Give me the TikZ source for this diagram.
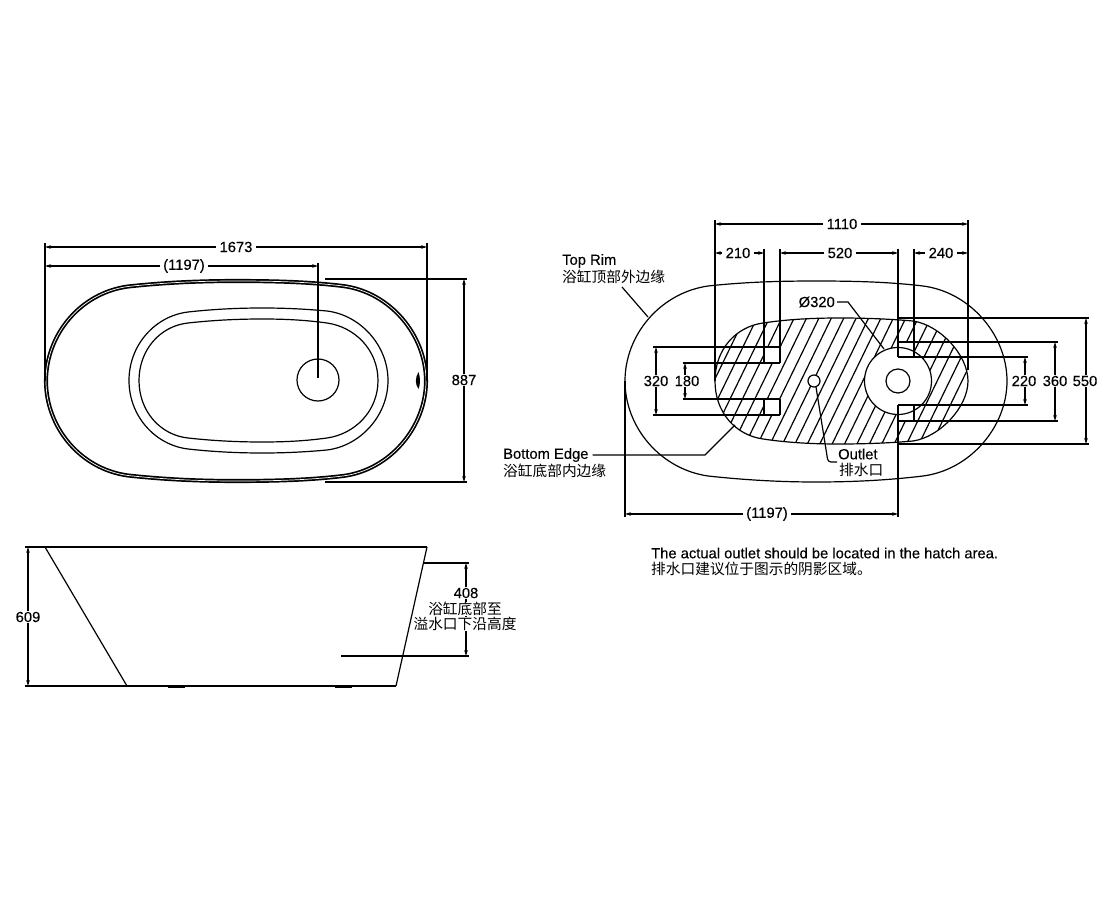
\documentclass[tikz,border=0pt]{standalone}
\usepackage{fontspec}
\setmainfont[FakeBold=0.2]{Liberation Sans}
\newfontfamily\cjk{Noto Sans CJK SC}
\usetikzlibrary{arrows.meta}
\newcommand{\outerpath}{(46,381) .. controls (46,335) and (80,293) .. (128,286.5) .. controls (165,282.5) and (200,281) .. (236,281) .. controls (275,281) and (310,282) .. (343,286) .. controls (390,292) and (426,335) .. (426,381) .. controls (426,427) and (390,470) .. (343,476) .. controls (310,480) and (275,481) .. (236,481) .. controls (200,481) and (165,479.5) .. (128,475.5) .. controls (80,469) and (46,427) .. (46,381) -- cycle}
\newcommand{\hatchpath}{(715,381) .. controls (715,350) and (735,327) .. (763,323) .. controls (790,319) and (815,318) .. (840,318) .. controls (865,318) and (890,319) .. (913,321) .. controls (940,325) and (968,355) .. (968,381) .. controls (968,407) and (940,437) .. (913,441) .. controls (890,443) and (865,444) .. (840,444) .. controls (815,444) and (790,443) .. (763,439) .. controls (735,435) and (715,412) .. (715,381) -- cycle}
\tikzset{
 x=1pt,y=-1pt,
 line/.style={draw=black,line width=1.2pt},
 dimline/.style={draw=black,line width=1.2pt,{Stealth[length=6pt,width=3.6pt]}-{Stealth[length=6pt,width=3.6pt]}},
 txt/.style={font=\fontsize{14.75}{16}\selectfont,inner sep=0pt,text=black},
 dimtxt/.style={txt,fill=white,inner xsep=3.5pt,inner ysep=1pt},
 cjktxt/.style={font=\fontsize{14.7}{16}\selectfont\cjk,inner sep=0pt,text=black},
}
\begin{document}
\begin{tikzpicture}
\useasboundingbox (0,0) rectangle (1120,920);
\fill[white] (0,0) rectangle (1120,920);

% --- left plan view
\draw[line width=1.7pt,double=white,double distance=0.7pt,draw=black] \outerpath;
\draw[line] (129,380.5) .. controls (129,345) and (155,316) .. (188,312) .. controls (215,309) and (240,308) .. (262,308) .. controls (285,308) and (305,309) .. (327,311) .. controls (360,315) and (388,345) .. (388,380.5) .. controls (388,416) and (360,446) .. (327,450) .. controls (305,452) and (285,453) .. (262,453) .. controls (240,453) and (215,452) .. (188,449) .. controls (155,445) and (129,416) .. (129,380.5) -- cycle;
\draw[line] (139,380.5) .. controls (139,350) and (160,326) .. (188,323) .. controls (215,320) and (240,319) .. (262,319) .. controls (285,319) and (305,320) .. (327,323) .. controls (355,327) and (378,350) .. (378,380.5) .. controls (378,411) and (355,434) .. (327,438) .. controls (305,441) and (285,442) .. (262,442) .. controls (240,442) and (215,441) .. (188,438) .. controls (160,435) and (139,411) .. (139,380.5) -- cycle;
\draw[line] (318,380) circle[radius=21];
\fill[black] (418.5,372) .. controls (420.5,378) and (420.5,384) .. (418.5,389) .. controls (415,384) and (415,378) .. (418.5,372) -- cycle;
% extension lines
\draw[line] (45,243) -- (45,381);
\draw[line] (427,243) -- (427,381);
\draw[line] (318,263) -- (318,378);
\draw[line] (325,279) -- (467,279);
\draw[line] (325,482) -- (467,482);
% dims
\draw[dimline] (45,247) -- (427,247);
\node[dimtxt] (d1673) at (236,247) {1673};
\draw[dimline] (45,266) -- (318,266);
\node[dimtxt] (d1197a) at (184,266) {(1197)};
\draw[dimline] (464,279) -- (464,482);
\node[dimtxt] (d887) at (464,380) {887};

% --- side view
\draw[line,line width=1.9pt] (45,547) -- (427,547);
\draw[line] (25,547) -- (45,547);
\draw[line] (45,547) -- (127,686);
\draw[line] (427,547) -- (396,686);
\draw[line] (25,686) -- (396,686);
\draw[line,line width=2pt] (168,686.5) -- (185,686.5);
\draw[line,line width=2pt] (335,686.5) -- (352,686.5);
\draw[line] (423,563) -- (469,563);
\draw[line] (341,656) -- (469,656);
\draw[dimline] (28,547) -- (28,686);
\node[dimtxt] (d609) at (28,617) {609};
\draw[dimline] (466,563) -- (466,656);
\node[txt,fill=white,inner xsep=1pt,inner ysep=1pt] (d408) at (466,593) {408};
\node[cjktxt,fill=white,inner ysep=0.5pt] (c1) at (465,609) {浴缸底部至};
\node[cjktxt,fill=white,inner ysep=0.5pt] (c2) at (465,624) {溢水口下沿高度};

% --- right plan view
\begin{scope}[xshift=580pt]
\draw[line] (45,381) .. controls (45,335) and (80,293) .. (128,286) .. controls (165,282) and (200,281) .. (236,281) .. controls (275,281) and (310,282) .. (343,286) .. controls (390,292) and (427,335) .. (427,381) .. controls (427,427) and (390,470) .. (343,476) .. controls (310,480) and (275,482) .. (236,482) .. controls (200,482) and (165,480) .. (128,476) .. controls (80,469) and (45,427) .. (45,381) -- cycle;
\end{scope}
\begin{scope}
\clip \hatchpath;
\foreach \n in {-8,...,16}
  \draw[line] ({819+12.4*\n+0.486*10},308) -- ({819+12.4*\n-0.486*130},448);
\end{scope}
\draw[line] \hatchpath;
% white boxes
\fill[white] (764,347) rectangle (780,363);
\fill[white] (764,399) rectangle (780,415);
\fill[white] (898,342) rectangle (914,357);
\fill[white] (898,405) rectangle (914,421);
% circles
\draw[line,fill=white] (898,381) circle[radius=33.5];
\draw[line] (898,381) circle[radius=12];
\draw[line,fill=white] (814,381) circle[radius=6];
% extension lines
\draw[line] (715,220) -- (715,381);
\draw[line] (968,220) -- (968,370);
\draw[line] (764,249) -- (764,363);
\draw[line] (780,249) -- (780,363);
\draw[line] (898,249) -- (898,357);
\draw[line] (914,249) -- (914,357);
\draw[line] (653,347) -- (780,347);
\draw[line] (683,363) -- (780,363);
\draw[line] (683,399) -- (780,399);
\draw[line] (653,415) -- (780,415);
\draw[line] (780,399) -- (780,415);
\draw[line] (764,399) -- (764,415);
\draw[line] (898,318) -- (1089,318);
\draw[line] (898,444) -- (1089,444);
\draw[line] (898,342) -- (1058,342);
\draw[line] (898,357) -- (1028,357);
\draw[line] (898,405) -- (1028,405);
\draw[line] (898,421) -- (1058,421);
\draw[line] (898,405) -- (898,517);
\draw[line] (914,405) -- (914,421);
\draw[line] (625,381) -- (625,517);
% dims
\draw[dimline] (715,224) -- (968,224);
\node[dimtxt] (d1110) at (842,224) {1110};
\draw[dimline] (715,253) -- (764,253);
\node[dimtxt] (d210) at (738,253) {210};
\draw[dimline] (780,253) -- (898,253);
\node[dimtxt] (d520) at (840,253) {520};
\draw[dimline] (914,253) -- (968,253);
\node[dimtxt] (d240) at (941,253) {240};
\draw[dimline] (656,347) -- (656,415);
\node[dimtxt,inner xsep=1pt] (d320) at (656,381) {320};
\draw[dimline] (685,363) -- (685,399);
\node[dimtxt,inner xsep=1pt] (d180) at (687,381) {180};
\draw[dimline] (1025,357) -- (1025,405);
\node[dimtxt,inner xsep=1pt] (d220) at (1024,381) {220};
\draw[dimline] (1055,342) -- (1055,421);
\node[dimtxt,inner xsep=1pt] (d360) at (1055,381) {360};
\draw[dimline] (1086,318) -- (1086,444);
\node[dimtxt,inner xsep=1pt] (d550) at (1085,381) {550};
\draw[dimline] (625,514) -- (898,514);
\node[dimtxt] (d1197b) at (767,514) {(1197)};

% labels and leaders
\node[txt,anchor=west] (toprim) at (562,261) {Top Rim};
\node[cjktxt,anchor=west] (toprimc) at (562,277) {浴缸顶部外边缘};
\draw[line] (622,287) -- (648,317);
\node[txt,anchor=east] (dia) at (835,302) {Ø320};
\draw[line] (dia.east) ++(2,0) -- (848,302) -- (884,349);
\node[txt,anchor=west] (bedge) at (503,455) {Bottom Edge};
\node[cjktxt,anchor=west] (bedgec) at (503,471) {浴缸底部内边缘};
\draw[line] (bedge.east) ++(4,0) -- (705,455) -- (735,425);
\node[txt,anchor=west] (outlet) at (838,454) {Outlet};
\node[cjktxt,anchor=west] (outletc) at (839,470) {排水口};
\draw[line,rounded corners=3pt] (816,387) -- (828,462) -- (837,462);
\node[txt,anchor=west] (note) at (651,553) {The actual outlet should be located in the hatch area.};
\node[cjktxt,anchor=west] (notec) at (651,569) {排水口建议位于图示的阴影区域。};
\end{tikzpicture}
\end{document}
